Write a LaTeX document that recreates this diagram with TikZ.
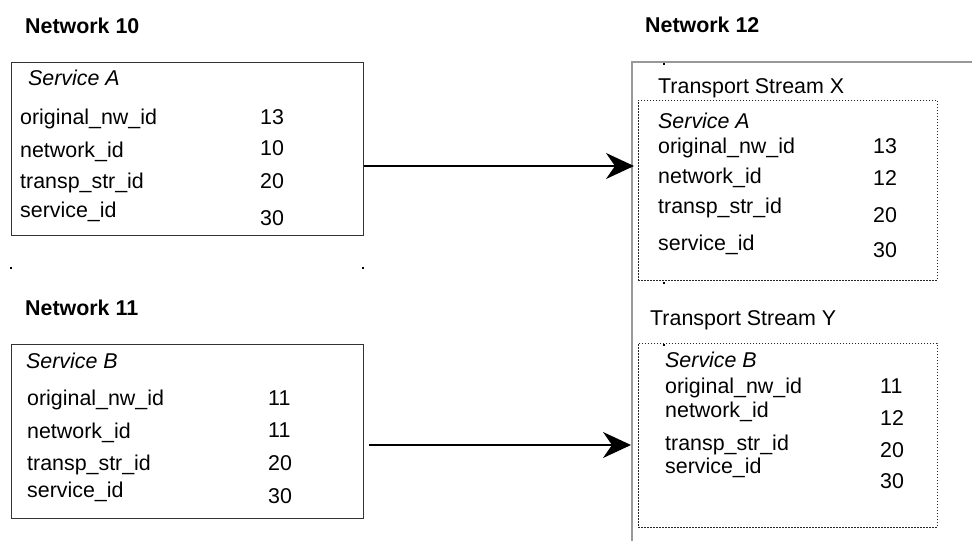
\documentclass[tikz,border=0pt]{standalone}
\usepackage{fontspec}
\setmainfont{Liberation Sans}
\usetikzlibrary{arrows.meta}
\begin{document}
\begin{tikzpicture}[x=1pt,y=-1pt,
  txt/.style={anchor=base west, inner sep=0pt, font=\fontsize{21.4}{25}\selectfont},
  ttl/.style={txt, font=\fontsize{21.4}{25}\selectfont\bfseries},
  svc/.style={txt, font=\fontsize{21.4}{25}\selectfont\itshape},
  solidbox/.style={draw=black!80, line width=1.3pt, anchor=north west, inner sep=0pt},
  dotbox/.style={draw=black!85, line width=0.9pt, dash pattern=on 1.6pt off 1.4pt, anchor=north west, inner sep=0pt},
  frame/.style={draw=black!40, line width=1.2pt},
  arr/.style={draw=black, line width=1.5pt, -{Stealth[length=28pt, width=26pt, inset=9pt]}},
  tick/.style={fill=black, inner sep=0pt, minimum width=2.5pt, minimum height=2.5pt}
]
\useasboundingbox (0,0) rectangle (972,541);

% Network 12 frame
\draw[frame] (632,541) -- (632,62) -- (972,62);

% boxes
\node[solidbox, minimum width=352pt, minimum height=173pt] (boxA) at (11,62) {};
\node[solidbox, minimum width=352pt, minimum height=174pt] (boxB) at (11,344) {};
\node[dotbox, minimum width=299pt, minimum height=180pt] (tsX) at (638,100) {};
\node[dotbox, minimum width=299pt, minimum height=184pt] (tsY) at (638,343) {};

% small marks
\node[tick] (m1) at (664,64) {};
\node[tick] (m2) at (664,283) {};
\node[tick] (m3) at (664,345) {};
\node[tick] (m4) at (11,268) {};
\node[tick] (m5) at (363,268) {};

% titles
\node[ttl] (n10) at (25,33) {Network 10};
\node[ttl] (n11) at (25,315) {Network 11};
\node[ttl] (n12) at (645,32) {Network 12};

% Box A
\node[svc] (aS) at (28,85) {Service A};
\node[txt] (a1) at (20,124) {original\_nw\_id};
\node[txt] (a2) at (20,157) {network\_id};
\node[txt] (a3) at (20,188) {transp\_str\_id};
\node[txt] (a4) at (20,217) {service\_id};
\node[txt] (av1) at (260,124) {13};
\node[txt] (av2) at (260,155) {10};
\node[txt] (av3) at (260,188) {20};
\node[txt] (av4) at (260,225) {30};

% Box B
\node[svc] (bS) at (26,368) {Service B};
\node[txt] (b1) at (27,405) {original\_nw\_id};
\node[txt] (b2) at (27,438) {network\_id};
\node[txt] (b3) at (27,470) {transp\_str\_id};
\node[txt] (b4) at (27,497) {service\_id};
\node[txt] (bv1) at (268,405) {11};
\node[txt] (bv2) at (268,437) {11};
\node[txt] (bv3) at (268,470) {20};
\node[txt] (bv4) at (268,503) {30};

% Transport Stream X
\node[txt] (tx) at (658,93) {Transport Stream X};
\node[svc] (xS) at (658,128) {Service A};
\node[txt] (x1) at (658,153) {original\_nw\_id};
\node[txt] (x2) at (658,183) {network\_id};
\node[txt] (x3) at (658,213) {transp\_str\_id};
\node[txt] (x4) at (658,250) {service\_id};
\node[txt] (xv1) at (873,153) {13};
\node[txt] (xv2) at (873,185) {12};
\node[txt] (xv3) at (873,222) {20};
\node[txt] (xv4) at (873,257) {30};

% Transport Stream Y
\node[txt] (ty) at (650,325) {Transport Stream Y};
\node[svc] (yS) at (665,367) {Service B};
\node[txt] (y1) at (665,393) {original\_nw\_id};
\node[txt] (y2) at (665,417) {network\_id};
\node[txt] (y3) at (665,450) {transp\_str\_id};
\node[txt] (y4) at (665,473) {service\_id};
\node[txt] (yv1) at (880,393) {11};
\node[txt] (yv2) at (880,425) {12};
\node[txt] (yv3) at (880,457) {20};
\node[txt] (yv4) at (880,488) {30};

% arrows
\draw[arr, shorten >=4pt] (boxA.east |- 0,166) -- (tsX.west |- 0,166);
\draw[arr, shorten <=5pt, shorten >=7pt] (boxB.east |- 0,445) -- (tsY.west |- 0,445);
\end{tikzpicture}
\end{document}
